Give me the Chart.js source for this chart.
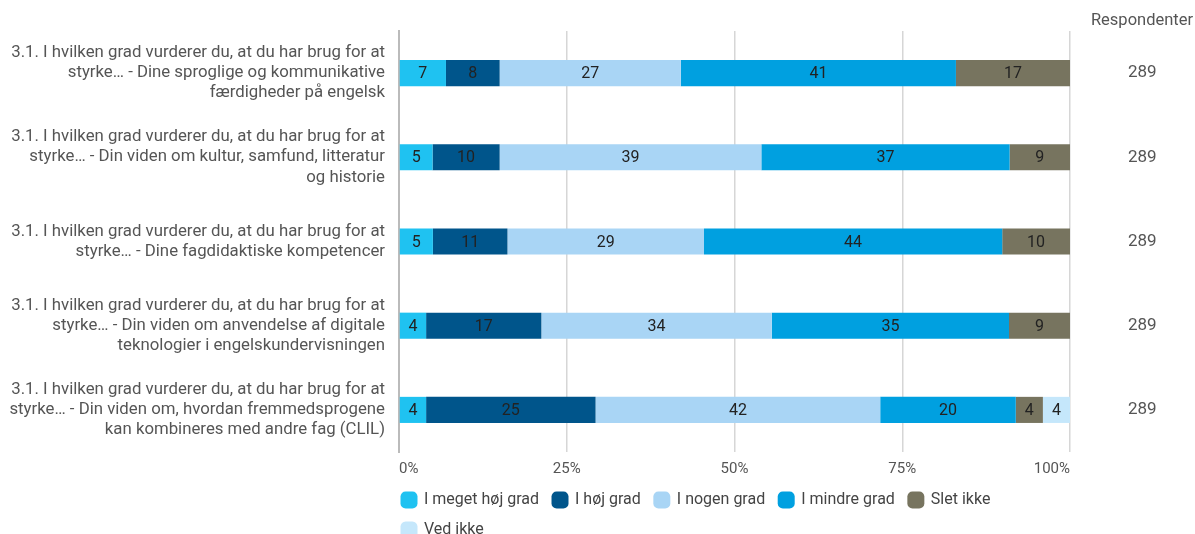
<!DOCTYPE html>
<html>
<head>
<meta charset="utf-8">
<script src="https://cdn.jsdelivr.net/npm/chart.js@4/dist/chart.umd.min.js"></script>
<style>
  html, body { margin: 0; padding: 0; background: #fff; }
  #wrap { width: 1195px; height: 534px; }
</style>
</head>
<body>
<div id="wrap"><canvas id="chart"></canvas></div>
<script>
// questions (one per row)
const questions = [
  ['3.1. I hvilken grad vurderer du, at du har brug for at', 'styrke… - Dine sproglige og kommunikative', 'færdigheder på engelsk'],
  ['3.1. I hvilken grad vurderer du, at du har brug for at', 'styrke… - Din viden om kultur, samfund, litteratur', 'og historie'],
  ['3.1. I hvilken grad vurderer du, at du har brug for at', 'styrke… - Dine fagdidaktiske kompetencer'],
  ['3.1. I hvilken grad vurderer du, at du har brug for at', 'styrke… - Din viden om anvendelse af digitale', 'teknologier i engelskundervisningen'],
  ['3.1. I hvilken grad vurderer du, at du har brug for at', 'styrke… - Din viden om, hvordan fremmedsprogene', 'kan kombineres med andre fag (CLIL)']
]
const respondents = ['289', '289', '289', '289', '289']

// answer categories and their percentages per row
const answers = ['I meget høj grad', 'I høj grad', 'I nogen grad', 'I mindre grad', 'Slet ikke', 'Ved ikke']
const meget = [7, 5, 5, 4, 4]
const hoej = [8, 10, 11, 17, 25]
const nogen = [27, 39, 29, 34, 42]
const mindre = [41, 37, 44, 35, 20]
const slet = [17, 9, 10, 9, 4]
const vedIkke = [0, 0, 0, 0, 4]
const xTicks = ['0%', '25%', '50%', '75%', '100%']

// colours
const colours = ['#1fc2f1', '#00558b', '#a9d5f5', '#00a0e0', '#77745f', '#c5e7fb']

const series = [meget, hoej, nogen, mindre, slet, vedIkke]

// bars are shown as share of the row (rounded numbers don't always add to 100)
const rowTotals = questions.map((q, i) => series.reduce((sofar, s) => sofar + s[i], 0))
const datasets = series.map((values, k) => ({
  label: answers[k],
  data: values.map((v, i) => v / rowTotals[i] * 100),
  raw: values,
  backgroundColor: colours[k],
  borderWidth: 0,
  categoryPercentage: 1,
  barPercentage: 0.31
}))

const family = 'Roboto, "Noto Sans", sans-serif'

// draw the number in the middle of every segment
const barLabels = {
  id: 'barLabels',
  afterDatasetsDraw (chart) {
    const ctx = chart.ctx
    ctx.save()
    ctx.font = `16px ${family}`
    ctx.fillStyle = '#222'
    ctx.textAlign = 'center'
    ctx.textBaseline = 'middle'
    chart.data.datasets.forEach((ds, k) => {
      chart.getDatasetMeta(k).data.forEach((bar, i) => {
        if (ds.raw[i] > 0) ctx.fillText(ds.raw[i], (bar.x + bar.base) / 2, bar.y + 1)
      })
    })
    ctx.restore()
  }
}

// header over the respondents column, and nudge the legend to the axis line
const header = {
  id: 'header',
  afterLayout (chart) {
    chart.legend.left -= 11
  },
  afterDraw (chart) {
    const s = chart.scales.y2
    const ctx = chart.ctx
    ctx.save()
    ctx.font = `16.5px ${family}`
    ctx.fillStyle = '#555'
    ctx.textAlign = 'center'
    ctx.textBaseline = 'middle'
    ctx.fillText('Respondenter', s.left + 72, 21)
    ctx.restore()
  }
}

const chart = new Chart(document.getElementById('chart'), {
  type: 'bar',
  data: { labels: questions, datasets },
  options: {
    indexAxis: 'y',
    responsive: true,
    maintainAspectRatio: false,
    animation: false,
    layout: { padding: { top: 31, right: 0, left: 0, bottom: 0 } },
    scales: {
      x: {
        stacked: true,
        min: 0,
        max: 100,
        border: { display: false },
        grid: { color: '#d6d6d6', drawTicks: false, lineWidth: 1.5 },
        ticks: {
          stepSize: 25,
          align: 'inner',
          padding: 8,
          color: '#555',
          font: { family, size: 15 },
          callback: (v, i) => xTicks[i]
        },
        afterFit: (scale) => { scale.height = 26 }
      },
      y: {
        stacked: true,
        border: { color: '#bbb', width: 2 },
        grid: { display: false, drawTicks: false },
        ticks: { color: '#555', font: { family, size: 16.8 }, padding: 14 },
        afterFit: (scale) => {
          scale.width = 399
          scale.paddingTop = 0
          scale.paddingBottom = 0
        }
      },
      y2: {
        position: 'right',
        type: 'category',
        labels: respondents,
        border: { display: false },
        grid: { display: false, drawTicks: false },
        ticks: { color: '#555', font: { family, size: 17 }, padding: 58 },
        afterFit: (scale) => {
          scale.width = 125
          scale.paddingTop = 0
          scale.paddingBottom = 0
        }
      }
    },
    plugins: {
      legend: {
        position: 'bottom',
        align: 'start',
        fullSize: false,
        maxHeight: 56,
        labels: {
          color: '#444',
          font: { family, size: 16 },
          usePointStyle: true,
          pointStyle: 'rectRounded',
          boxWidth: 14,
          boxHeight: 14,
          padding: 14
        }
      },
      tooltip: { enabled: false }
    }
  },
  plugins: [barLabels, header]
})
</script>
</body>
</html>
